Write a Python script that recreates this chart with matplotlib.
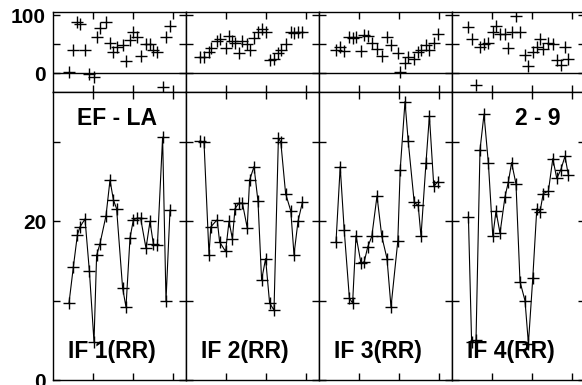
import matplotlib
matplotlib.use("Agg")
import matplotlib.pyplot as plt

plt.rcParams['font.family'] = ['Liberation Sans', 'DejaVu Sans']
plt.rcParams['font.weight'] = 'bold'

# x positions per panel (same for top and bottom rows)
x1 = [4, 5.1, 6.1, 6.75, 8, 9.1, 10.25, 10.9, 11.75, 13.25, 14.25, 15.1, 15.9, 17.4,
      18.25, 19.25, 20.1, 21.1, 21.9, 23.25, 24.25, 25.1, 26.1, 27.4, 28.25, 29.25]
x2 = [3.4, 4.5, 5.75, 6.2, 7.8, 8.4, 9.9, 10.75, 11.6, 12.25, 13.25, 14.1, 15.3, 15.9,
      17, 18, 18.9, 19.9, 20.9, 22, 23.1, 23.7, 24.9, 26.2, 27, 28, 29.1]
x3 = [4.25, 5.3, 6.3, 7.6, 8.4, 9.25, 10.5, 11.3, 12.2, 13.2, 14.5, 15.7, 17, 18,
      19.7, 20.3, 21.5, 22.3, 23.8, 24.8, 25.5, 26.75, 27.6, 28.7, 29.7]
x4 = [4.1, 4.9, 6, 7, 8, 9.1, 10.2, 11, 12, 13.25, 14.1, 14.9, 16, 17, 18.25, 19.1,
      20.2, 21.2, 22, 22.8, 24.1, 25.2, 26.2, 27.2, 28.25, 29.1]

# top row scatter values
top1 = [2, 40, 89, 85, 40, -2, -7, 62, 79, 89, 52, 36, 45, 48, 21, 58, 71, 62, 29,
        51, 51, 40, 36, -24, 62, 82]
top2 = [28, 27, 36, 44, 56, 59, 44, 65, 56, 52, 35, 56, 50, 40, 60, 71, 76, 71, 22,
        25, 34, 40, 50, 71, 69, 71, 72]
top3 = [40, 45, 39, 62, 61, 62, 39, 66, 65, 53, 42, 29, 62, 48, 34, 2, 18, 27, 25,
        36, 40, 48, 40, 52, 68]
top4 = [80, 59, -20, 45, 51, 53, 72, 82, 68, 68, 44, 71, 99, 71, 31, 12, 36, 45, 59,
        42, 53, 51, 22, 14, 46, 25]

# bottom row line values
bot1 = [9.7, 14.3, 18.3, 19.3, 20.3, 13.7, 4.8, 15.7, 17.2, 20.7, 25.2, 22.7, 21.6,
        11.6, 9.2, 17.9, 20.2, 20.4, 20.4, 16.6, 20.0, 17.1, 17.0, 30.6, 10.0, 21.4]
bot2 = [30.1, 30.0, 15.8, 19.3, 20.2, 17.4, 16.2, 20.0, 17.8, 21.6, 22.3, 22.3, 19.2,
        25.2, 26.9, 22.5, 12.6, 15.3, 9.7, 8.8, 30.5, 30.0, 23.5, 21.3, 15.8, 20.0, 22.4]
bot3 = [17.4, 26.9, 18.9, 10.3, 9.7, 18.2, 14.7, 14.9, 16.8, 18.1, 23.2, 18.1, 15.3,
        9.2, 17.5, 26.5, 35.1, 30.1, 22.4, 22.0, 18.1, 27.4, 33.3, 24.4, 25.0]
bot4 = [20.6, 4.8, 5.0, 29.0, 33.5, 27.3, 18.1, 21.3, 18.5, 23.1, 25.0, 27.4, 24.7,
        12.4, 10.0, 4.6, 12.9, 21.6, 21.2, 23.5, 23.8, 27.9, 25.4, 26.5, 28.2, 25.8]

xs = [x1, x2, x3, x4]
tops = [top1, top2, top3, top4]
bots = [bot1, bot2, bot3, bot4]
labels = ["IF 1(RR)", "IF 2(RR)", "IF 3(RR)", "IF 4(RR)"]

W, H = 582, 385
fig = plt.figure(figsize=(W / 100, H / 100), dpi=100)

lefts = [53, 186, 319, 452]
pw = 133

def style(ax):
    ax.tick_params(direction='in', length=5, width=1, top=True, right=True,
                   labelsize=15, pad=5)
    for s in ax.spines.values():
        s.set_linewidth(1)
    ax.set_xlim(0, 33.25)
    ax.set_xticks([10, 20, 30])
    ax.set_xticklabels([])

for i in range(4):
    l = lefts[i] / W
    # top panel
    at = fig.add_axes([l, (H - 92) / H, pw / W, 80 / H])
    style(at)
    at.set_ylim(-33, 106)
    at.set_yticks([0, 50, 100])
    at.axhline(0, color='black', lw=1)
    at.plot(xs[i], tops[i], ls='none', marker='+', ms=9, mew=1, color='black')
    if i == 0:
        at.set_yticklabels(['0', '', '100'], fontweight='bold')
    else:
        at.set_yticklabels([])

    # bottom panel
    ab = fig.add_axes([l, (H - 380) / H, pw / W, 288 / H])
    style(ab)
    ab.set_ylim(0, 36.3)
    ab.set_yticks([0, 10, 20, 30])
    ab.plot(xs[i], bots[i], color='black', lw=0.8, marker='+', ms=9, mew=1)
    if i == 0:
        ab.set_yticklabels(['0', '', '20', ''], fontweight='bold')
    else:
        ab.set_yticklabels([])
    ab.text(0.115, 0.075, labels[i], transform=ab.transAxes, fontsize=16.5,
            fontweight='bold', ha='left', va='baseline')
    if i == 0:
        ab.text(0.18, 0.885, "EF - LA", transform=ab.transAxes, fontsize=16.5,
                fontweight='bold', ha='left', va='baseline')
    if i == 3:
        ab.text(0.47, 0.885, "2 - 9", transform=ab.transAxes, fontsize=16.5,
                fontweight='bold', ha='left', va='baseline')

fig.savefig("out.png", dpi=100)
